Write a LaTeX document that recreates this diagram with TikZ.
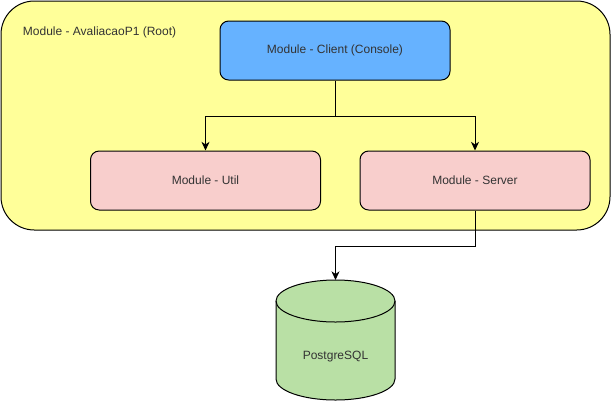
\documentclass[tikz,border=0pt]{standalone}
\usepackage{fontspec}
\setmainfont{Liberation Sans}
\usetikzlibrary{arrows.meta}
\definecolor{rootyellow}{HTML}{FFFF99}
\definecolor{clientblue}{HTML}{66B2FF}
\definecolor{modpink}{HTML}{F8CECC}
\definecolor{dbgreen}{HTML}{B9E0A5}
\begin{document}
\begin{tikzpicture}[x=0.75pt,y=-0.75pt,line width=0.75pt,font=\fontsize{9pt}{11pt}\selectfont,
  modbox/.style={draw,rounded corners=6.5pt,minimum width=172.5pt,minimum height=44.25pt,text=black!80},
  link/.style={-{Stealth[length=6.5pt,width=6pt,inset=2pt]}}]
\useasboundingbox (0,0) rectangle (611,401);
\draw[fill=rootyellow,rounded corners=25pt] (1,1) rectangle (610,230);
\node[anchor=base west,text=black!80] (rootlbl) at (18,35) {Module - AvaliacaoP1 (Root)};
\node[modbox,fill=clientblue] (client) at (335,50.5) {Module - Client (Console)};
\node[modbox,fill=modpink] (util) at (205.5,180.5) {Module - Util};
\node[modbox,fill=modpink] (server) at (475,180.5) {Module - Server};
% database drum
\draw[fill=dbgreen] (276,301) -- (276,379) arc[start angle=180,end angle=0,x radius=59.5,y radius=21]
  -- (395,301) arc[start angle=0,end angle=-180,x radius=59.5,y radius=21] -- cycle;
\draw (276,301) arc[start angle=180,end angle=0,x radius=59.5,y radius=21];
\coordinate (pgtop) at (335.5,280);
\node[text=black!80] (pg) at (335.5,357) {PostgreSQL};
\draw[link] (client.south) -- ++(0,36) -| (util.north);
\draw[link] (client.south) -- ++(0,36) -| (server.north);
\draw[link] (server.south) -- ++(0,36) -| (pgtop);
\end{tikzpicture}
\end{document}
